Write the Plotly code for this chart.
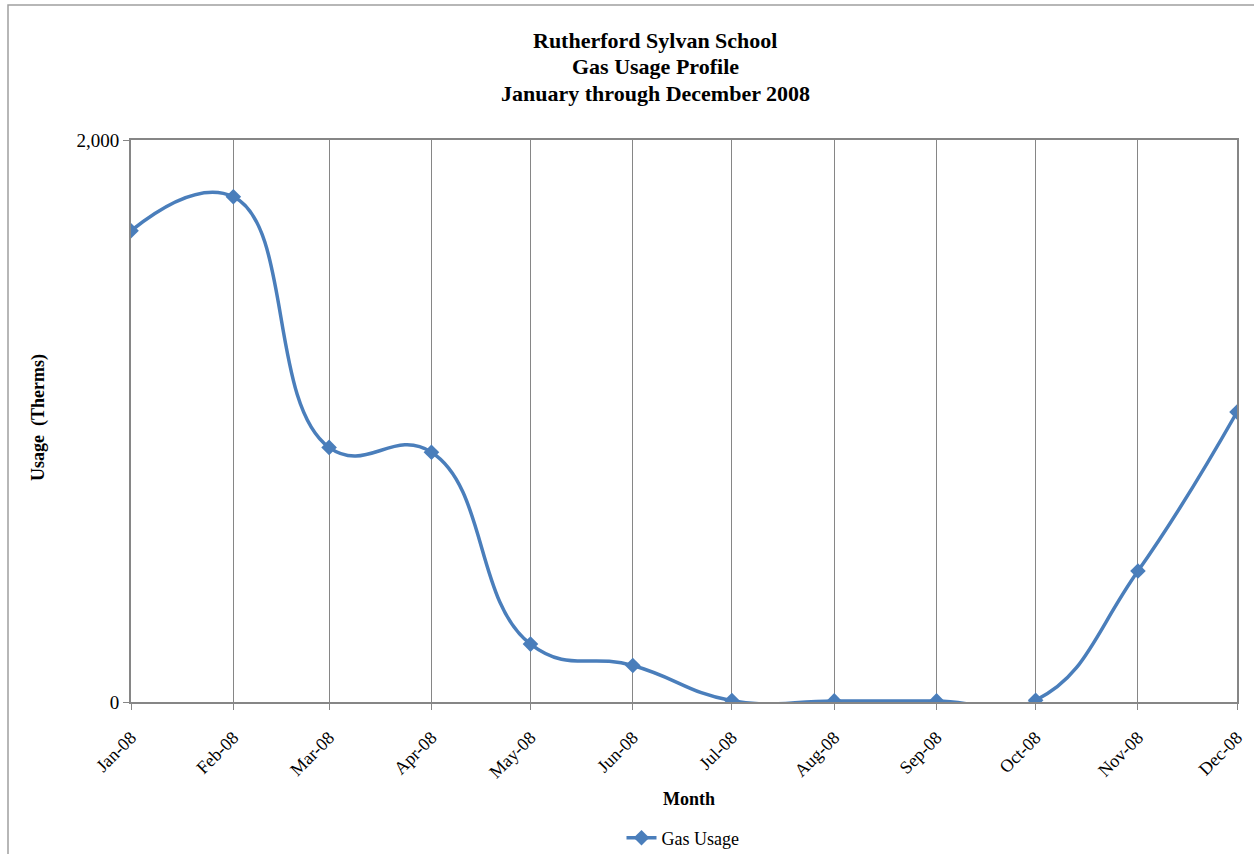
import plotly.graph_objects as go

months = ["2008-01-01", "2008-02-01", "2008-03-01", "2008-04-01", "2008-05-01", "2008-06-01",
          "2008-07-01", "2008-08-01", "2008-09-01", "2008-10-01", "2008-11-01", "2008-12-01"]
month_labels = ["Jan-08", "Feb-08", "Mar-08", "Apr-08", "May-08", "Jun-08",
                "Jul-08", "Aug-08", "Sep-08", "Oct-08", "Nov-08", "Dec-08"]
gas_usage = [1677, 1798, 906, 889, 206, 130, 5, 4, 4, 6, 466, 1032]
y_ticks = [0, 2000]
y_tick_labels = ["0", "2,000"]
title_lines = ["Rutherford Sylvan School", "Gas Usage Profile", "January through December 2008"]

W, H = 1254, 854
L, R, T, B = 131, 17, 140, 152
pw, ph = W - L - R, H - T - B

def px_x(p):
    return (p - L) / pw

def px_y(p):
    return (H - B - p) / ph

FONT = "Liberation Serif, Times New Roman, serif"
BLUE = "#4A7EBB"
GRID = "#868686"

fig = go.Figure()
fig.add_trace(go.Scatter(
    x=months, y=gas_usage, name="Gas Usage",
    mode="lines+markers",
    line=dict(color=BLUE, width=3.5, shape="spline", smoothing=1.3),
    marker=dict(symbol="diamond", size=12, color=BLUE),
))

annotations = []
for i, (txt, yc) in enumerate(zip(title_lines, [41, 67, 93])):
    annotations.append(dict(text="<b>" + txt + "</b>", xref="paper", yref="paper",
                            x=px_x(655), y=px_y(yc), xanchor="center", yanchor="middle",
                            showarrow=False, font=dict(family=FONT, size=22, color="black")))
annotations += [
    dict(text="<b>Month</b>", xref="paper", yref="paper",
         x=px_x(689), y=px_y(799), xanchor="center", yanchor="middle",
         showarrow=False, font=dict(family=FONT, size=18, color="black")),
    dict(text="<b>Usage  (Therms)</b>", xref="paper", yref="paper",
         x=px_x(38), y=px_y(418), xanchor="center", yanchor="middle",
         textangle=-90, showarrow=False,
         font=dict(family=FONT, size=18, color="black")),
]

fig.update_layout(
    width=W, height=H,
    margin=dict(l=L, r=R, t=T, b=B, autoexpand=False),
    paper_bgcolor="white", plot_bgcolor="white",
    font=dict(family=FONT, size=18, color="black"),
    showlegend=True,
    legend=dict(orientation="h", x=683 / W, xanchor="center", xref="container",
                y=1 - 838 / H, yanchor="middle", yref="container",
                font=dict(family=FONT, size=18, color="black"),
                bgcolor="rgba(0,0,0,0)"),
    xaxis=dict(
        type="date", automargin=False,
        range=[months[0], months[-1]],
        tickmode="array", tickvals=months, ticktext=month_labels,
        tickangle=-45, ticklabelstandoff=10,
        showgrid=True, gridcolor=GRID, gridwidth=1,
        showline=True, linecolor=GRID, linewidth=2, mirror=True,
        ticks="outside", ticklen=6, tickcolor=GRID, tickwidth=1,
        zeroline=False,
        tickfont=dict(family=FONT, size=18, color="black"),
    ),
    yaxis=dict(
        range=[0, 2000], automargin=False,
        tickmode="array", tickvals=y_ticks, ticktext=y_tick_labels,
        showgrid=False,
        showline=True, linecolor=GRID, linewidth=2, mirror=True,
        ticks="outside", ticklen=6, tickcolor=GRID, tickwidth=1,
        zeroline=False,
        tickfont=dict(family=FONT, size=19, color="black"),
    ),
    shapes=[dict(type="rect", xref="paper", yref="paper",
                 x0=px_x(8), x1=px_x(1260), y0=px_y(870), y1=px_y(5),
                 line=dict(color="#A0A0A0", width=1.5), layer="below")],
    annotations=annotations,
)

fig.write_html("out.html")
